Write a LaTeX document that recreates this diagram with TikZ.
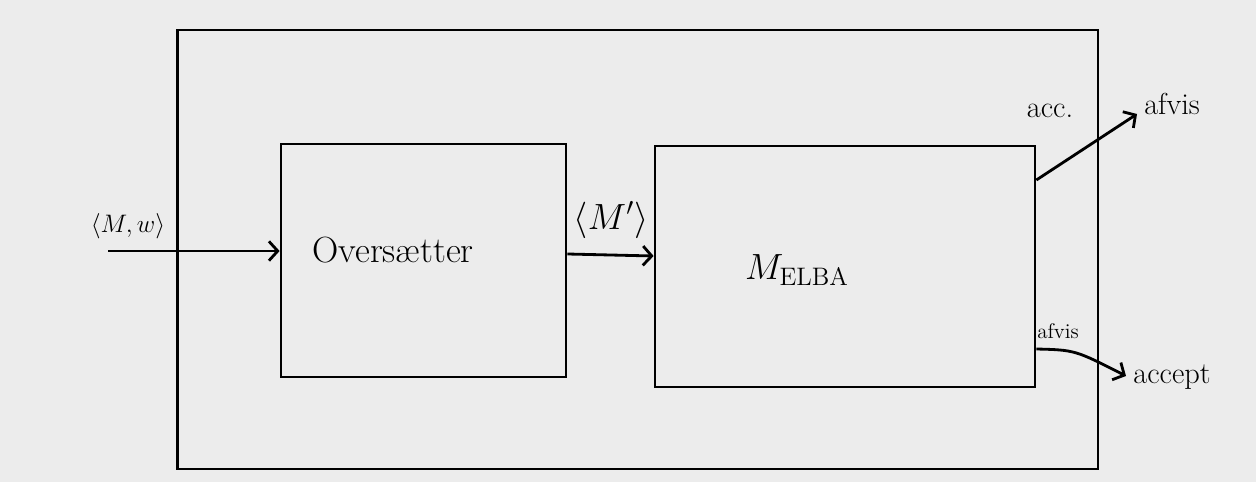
\documentclass[tikz,border=0pt]{standalone}
\usepackage{amsmath}
\usetikzlibrary{positioning,arrows.meta}

\begin{document}
\begin{tikzpicture}[x=0.02cm, y=-0.02cm, line width=1.6pt,
  >={Straight Barb[length=5pt, width=11pt]},
  machine/.style = {shape=rectangle, draw, inner sep=0pt}]
  \fill[black!7.5] (0,0) rectangle (1256,482);
  \useasboundingbox (0,0) rectangle (1256,482);
  % boxes
  \node[machine, minimum width=18.42cm, minimum height=8.78cm] (outer) at (637.5,249.5) {};
  \node[machine, minimum width=5.7cm, minimum height=4.66cm] (overs) at (423.5,260.5) {};
  \node[machine, minimum width=7.6cm, minimum height=4.82cm] (melba) at (845,266.5) {};
  \node (overstext) at (393,250) {\huge Overs\ae tter};
  \node (melbatext) at (797,270) {\fontsize{22}{26}\selectfont $M_{\mathrm{ELBA}}$};
  % input
  \coordinate (input) at (108,251);
  \node (inlabel) at (128,226) {\Large $\langle M,w\rangle$};
  \draw[->] (input) -- (input -| overs.west);
  % translator -> machine
  \node (mlabel) at (611,220) {\huge $\langle M'\rangle$};
  \draw[->] (overs.east |- 0,254) -- (melba.west |- 0,256);
  % outputs
  \coordinate (rejectend) at (1137,114);
  \coordinate (acceptend) at (1126,376);
  \node (acclabel) at (1050,111) {\LARGE acc.};
  \node (afvistop) at (1172,104) {\LARGE afvis};
  \node (afvisbot) at (1058,331) {\large afvis};
  \node (accept) at (1172,377) {\LARGE accept};
  \draw[->] (melba.east |- 0,180) -- (rejectend);
  \draw[->] (melba.east |- 0,349) .. controls (1075,350) .. (acceptend);
\end{tikzpicture}
\end{document}
